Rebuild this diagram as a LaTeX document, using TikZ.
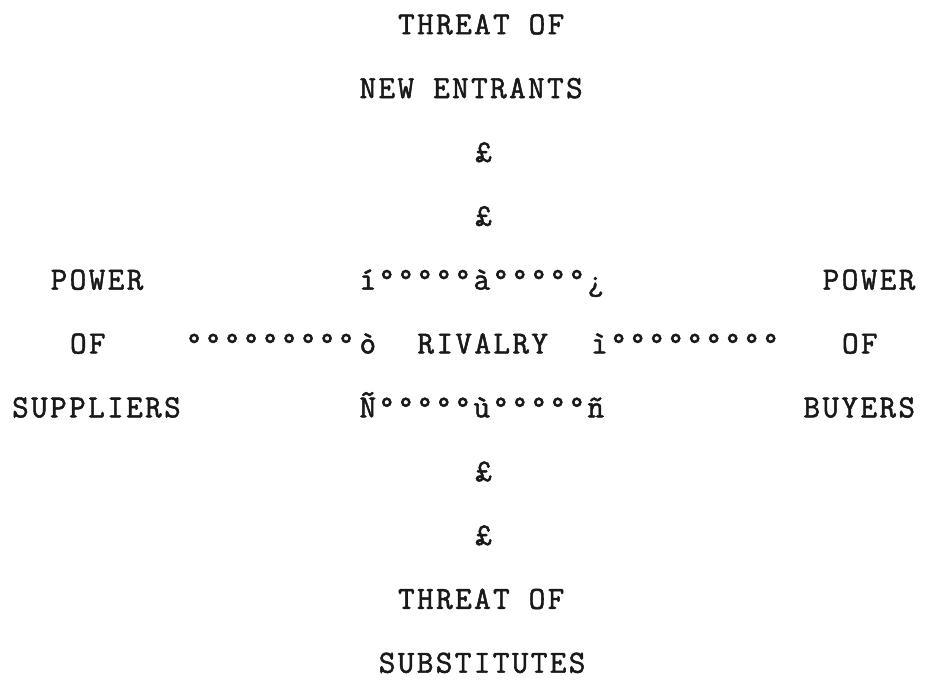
\documentclass[tikz,border=0pt]{standalone}
\usepackage{fontspec}
% typewriter face, letter-spaced so that one character cell is 19.3pt wide,
% emboldened a little to look like a ribbon print
\newfontfamily\typer{Latin Modern Mono}[LetterSpace=7.5, FakeBold=1.6]
\tikzset{
  typed/.style={anchor=base west, inner sep=0pt, outer sep=0pt,
    font=\typer\fontsize{32.2}{38}\selectfont, text=black!90,
    xshift=1.2pt}
}
% character grid of the typed page: column pitch 19.3pt, line pitch 63.85pt
\newcommand\cx[1]{{10.95+19.3*#1}}
\newcommand\ry[1]{{34.2+63.85*#1}}
\begin{document}
\begin{tikzpicture}[x=1pt,y=-1pt]
  \useasboundingbox (0,0) rectangle (926,680);
  % threat of new entrants
  \node[typed] (entT) at (\cx{20},\ry{0}) {THREAT OF};
  \node[typed] (entB) at (\cx{18},\ry{1}) {NEW ENTRANTS};
  \node[typed] (entA) at (\cx{24},\ry{2}) {£};
  \node[typed] (entC) at (\cx{24},\ry{3}) {£};
  % middle band
  \node[typed] (supA) at (\cx{2},\ry{4}) {POWER};
  \node[typed] (boxT) at (\cx{18},\ry{4}) {í°°°°°à°°°°°¿};
  \node[typed] (buyA) at (\cx{42},\ry{4}) {POWER};
  \node[typed] (supB) at (\cx{3},\ry{5}) {OF};
  \node[typed] (lineL) at (\cx{9},\ry{5}) {°°°°°°°°°};
  \node[typed] (boxL) at (\cx{18},\ry{5}) {ò};
  \node[typed] (riv) at (\cx{21},\ry{5}) {RIVALRY};
  \node[typed] (boxR) at (\cx{30},\ry{5}) {ì};
  \node[typed] (lineR) at (\cx{31},\ry{5}) {°°°°°°°°°};
  \node[typed] (buyB) at (\cx{43},\ry{5}) {OF};
  \node[typed] (supC) at (\cx{0},\ry{6}) {SUPPLIERS};
  \node[typed] (boxB) at (\cx{18},\ry{6}) {Ñ°°°°°ù°°°°°ñ};
  \node[typed] (buyC) at (\cx{41},\ry{6}) {BUYERS};
  % threat of substitutes
  \node[typed] (subA) at (\cx{24},\ry{7}) {£};
  \node[typed] (subC) at (\cx{24},\ry{8}) {£};
  \node[typed] (subT) at (\cx{20},\ry{9}) {THREAT OF};
  \node[typed] (subB) at (\cx{19},\ry{10}) {SUBSTITUTES};
\end{tikzpicture}
\end{document}
